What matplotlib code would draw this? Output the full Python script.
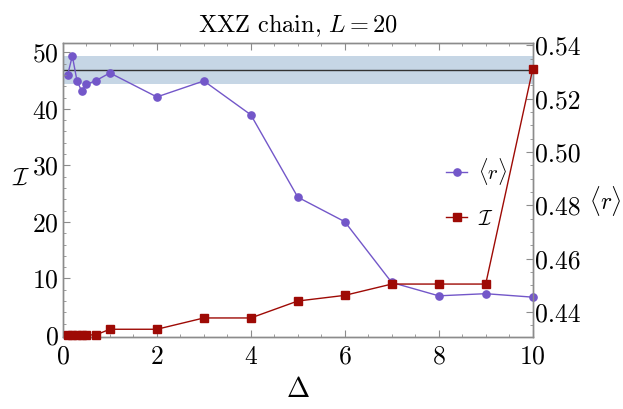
import matplotlib
matplotlib.use('Agg')
import matplotlib.pyplot as plt
from matplotlib.ticker import MultipleLocator

plt.rcParams['font.family'] = 'serif'
plt.rcParams['font.serif'] = ['cmr10', 'DejaVu Serif']
plt.rcParams['mathtext.fontset'] = 'cm'
plt.rcParams['axes.formatter.use_mathtext'] = True
plt.rcParams['axes.unicode_minus'] = False

# data
delta = [0.1, 0.2, 0.3, 0.4, 0.5, 0.7, 1, 2, 3, 4, 5, 6, 7, 8, 9, 10]
r_mean = [0.5289, 0.5361, 0.5267, 0.5229, 0.5254, 0.5268, 0.5297, 0.5207,
          0.5267, 0.5140, 0.4831, 0.4739, 0.4511, 0.4461, 0.4469, 0.4456]
info = [0, 0, 0, 0, 0, 0, 1, 1, 3, 3, 6, 7, 9, 9, 9, 47]
r_goe = 0.5307
r_band = (0.5256, 0.5362)

purple = '#7357c9'
red = '#9e0a05'
frame = '#8c8c8c'

fig = plt.figure(figsize=(6.23, 4.09), dpi=100)
ax_r = fig.add_axes([0.101, 0.177, 0.754, 0.717])
ax_I = ax_r.twinx()

# <r> on the right-hand axis
ax_r.axhspan(r_band[0], r_band[1], color='#c6d6e5', lw=0, zorder=0)
ax_r.axhline(r_goe, color='#333333', lw=1.0, zorder=1)
l_r, = ax_r.plot(delta, r_mean, '-o', color=purple, ms=5.2, lw=1.0,
                 label=r'$\langle r\rangle$', clip_on=False, zorder=3)
ax_r.set_ylim(0.4308, 0.5408)
ax_r.yaxis.tick_right()
ax_r.yaxis.set_label_position('right')
ax_r.yaxis.set_major_locator(MultipleLocator(0.02))
ax_r.yaxis.set_minor_locator(MultipleLocator(0.005))
ax_r.yaxis.set_major_formatter(lambda v, p: f'{v:.2f}')
ax_r.set_ylabel(r'$\langle r\rangle$', rotation=0, fontsize=17)
ax_r.yaxis.set_label_coords(1.155, 0.52)

# I on the left-hand axis
l_I, = ax_I.plot(delta, info, '-s', color=red, ms=5.2, lw=1.0,
                 label=r'$\mathcal{I}$', clip_on=False, zorder=4)
ax_I.set_ylim(-0.3, 51.6)
ax_I.yaxis.tick_left()
ax_I.yaxis.set_label_position('left')
ax_I.yaxis.set_major_locator(MultipleLocator(10))
ax_I.yaxis.set_minor_locator(MultipleLocator(2))
ax_I.set_ylabel(r'$\mathcal{I}$', rotation=0, fontsize=18)
ax_I.yaxis.set_label_coords(-0.088, 0.5)

ax_r.set_xlim(0, 10)
ax_r.xaxis.set_major_locator(MultipleLocator(2))
ax_r.xaxis.set_minor_locator(MultipleLocator(0.5))
ax_r.set_xlabel(r'$\Delta$', fontsize=20, labelpad=6)
ax_r.set_title(r'XXZ chain, $L = 20$', fontsize=17.5, pad=8)

for a in (ax_r, ax_I):
    for s in a.spines.values():
        s.set_color(frame)
        s.set_linewidth(1.0)
    a.tick_params(which='both', direction='in', color=frame, labelsize=18.5,
                  top=True)
    a.tick_params(which='major', length=5)
    a.tick_params(which='minor', length=2.5)
ax_r.tick_params(axis='x', which='both', top=True, bottom=True, pad=6)
ax_I.tick_params(axis='y', pad=3)
ax_r.tick_params(axis='y', pad=2)

ax_I.legend([l_r, l_I], [r'$\langle r\rangle$', r'$\mathcal{I}$'],
            loc='center', bbox_to_anchor=(0.765, 0.53),
            bbox_transform=fig.transFigure, frameon=False, fontsize=15,
            handlelength=1.0, handletextpad=0.5, labelspacing=1.1)

fig.savefig('out.png', dpi=100)
